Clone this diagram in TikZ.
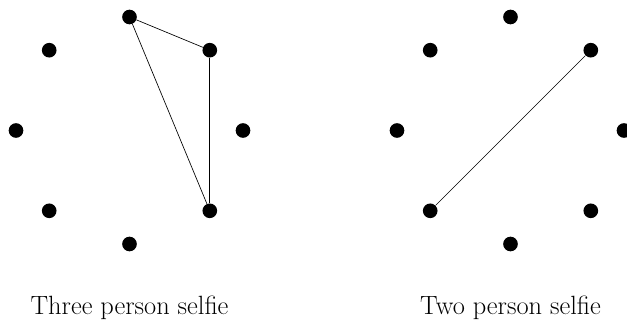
\documentclass[tikz,border=0pt]{standalone}
\begin{document}
\begin{tikzpicture}[x=0.75pt,y=-0.75pt,
  dot/.style={circle,fill=black,inner sep=0pt,minimum size=11pt},
  edge/.style={draw=black,line width=0.5pt},
  caption/.style={anchor=base,font=\fontsize{19.8}{24}\selectfont,inner sep=0pt}]
\useasboundingbox (0,0) rectangle (627,320);
% left octagon
\node[dot] (Lt)  at (129.5,17) {};
\node[dot] (Lur) at (209.8,50.2) {};
\node[dot] (Lr)  at (243,130.5) {};
\node[dot] (Llr) at (209.8,210.8) {};
\node[dot] (Lb)  at (129.5,244) {};
\node[dot] (Lll) at (49.2,210.8) {};
\node[dot] (Ll)  at (16,130.5) {};
\node[dot] (Lul) at (49.2,50.2) {};
% right octagon
\node[dot] (Rt)  at (510.5,17) {};
\node[dot] (Rur) at (590.8,50.2) {};
\node[dot] (Rr)  at (624,130.5) {};
\node[dot] (Rlr) at (590.8,210.8) {};
\node[dot] (Rb)  at (510.5,244) {};
\node[dot] (Rll) at (430.2,210.8) {};
\node[dot] (Rl)  at (397,130.5) {};
\node[dot] (Rul) at (430.2,50.2) {};
% edges
\draw[edge] (Lt) -- (Lur);
\draw[edge] (Lur) -- (Llr);
\draw[edge] (Lt) -- (Llr);
\draw[edge] (Rur) -- (Rll);
% captions
\node[caption] (capL) at (129.5,314) {Three person selfie};
\node[caption] (capR) at (510.5,314) {Two person selfie};
\end{tikzpicture}
\end{document}
